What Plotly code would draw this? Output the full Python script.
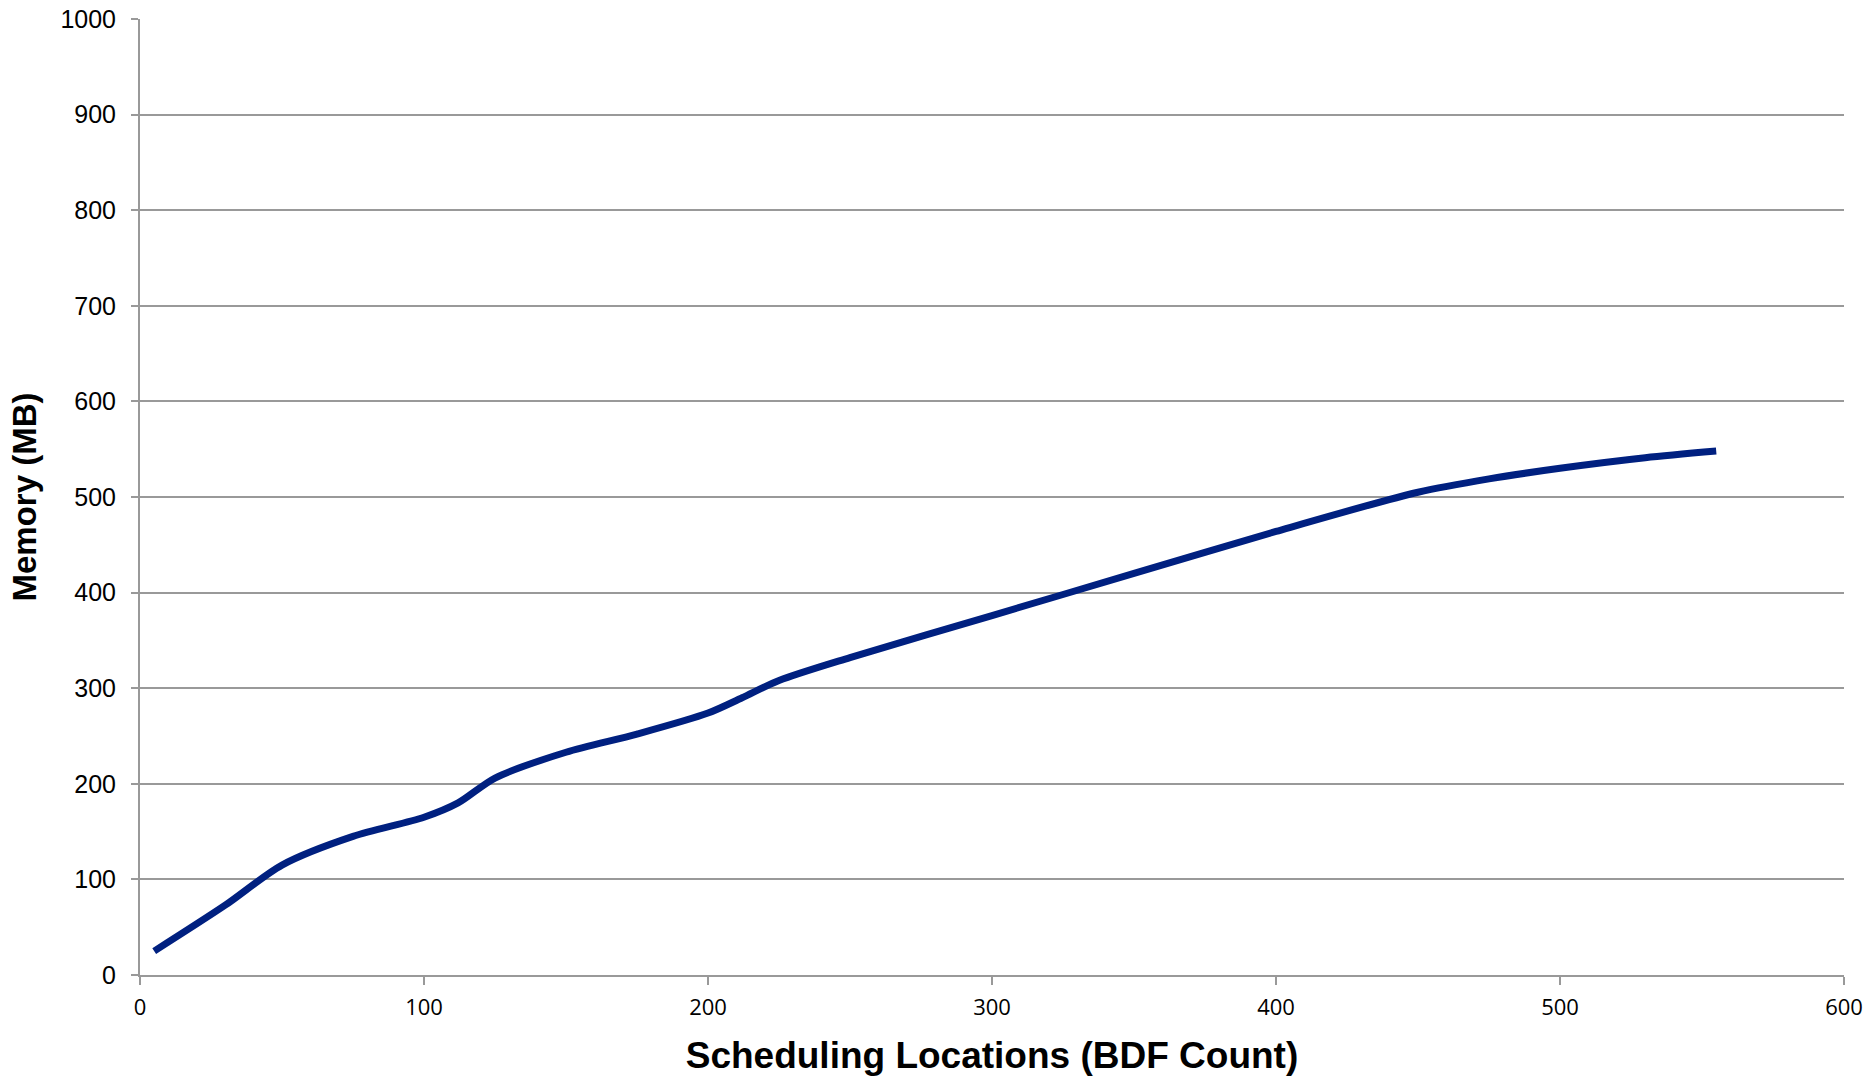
import plotly.graph_objects as go

bdf_count = [5, 30, 50, 75, 100, 112, 125, 150, 175, 200, 212, 225, 250, 300, 350, 400, 450, 475, 500, 530, 555]
memory_mb = [25, 73, 115, 145, 165, 180, 206, 233, 252, 274, 290, 308, 332, 376, 420, 464, 505, 519, 530, 541, 548]

x_ticks = [0, 100, 200, 300, 400, 500, 600]
y_ticks = [0, 100, 200, 300, 400, 500, 600, 700, 800, 900, 1000]

fig = go.Figure()
fig.add_trace(go.Scatter(
    x=bdf_count, y=memory_mb, mode="lines",
    line=dict(color="#002080", width=7, shape="spline", smoothing=0.8),
    showlegend=False,
))

fig.update_layout(
    width=1871, height=1077,
    margin=dict(l=140, r=27, t=19, b=102),
    plot_bgcolor="white", paper_bgcolor="white",
)
fig.update_xaxes(
    range=[0, 600], tickvals=x_ticks, showgrid=False, automargin=False,
    showline=True, linecolor="#999999", linewidth=2,
    ticks="outside", ticklen=8, tickwidth=2, tickcolor="#999999",
    tickfont=dict(family="Open Sans", size=22, color="black"),
    ticklabelstandoff=4,
    title=dict(text="<b>Scheduling Locations (BDF Count)</b>",
               font=dict(family="Liberation Sans Narrow, Liberation Sans", size=37, color="black"),
               standoff=22),
)
fig.update_yaxes(
    range=[0, 1000], tickvals=y_ticks, showgrid=True, gridcolor="#999999", gridwidth=2,
    automargin=False,
    showline=True, linecolor="#999999", linewidth=2,
    ticks="outside", ticklen=7, tickwidth=2, tickcolor="#999999",
    tickfont=dict(family="Liberation Sans", size=25, color="black"),
    ticklabelstandoff=10,
    title=dict(text="<b>Memory (MB)</b>",
               font=dict(family="Liberation Sans", size=33, color="black"),
               standoff=14),
)

fig.write_html(
    "out.html",
    config={"displayModeBar": False},
    post_script="document.body.style.margin='0';document.body.style.overflow='hidden';",
)
